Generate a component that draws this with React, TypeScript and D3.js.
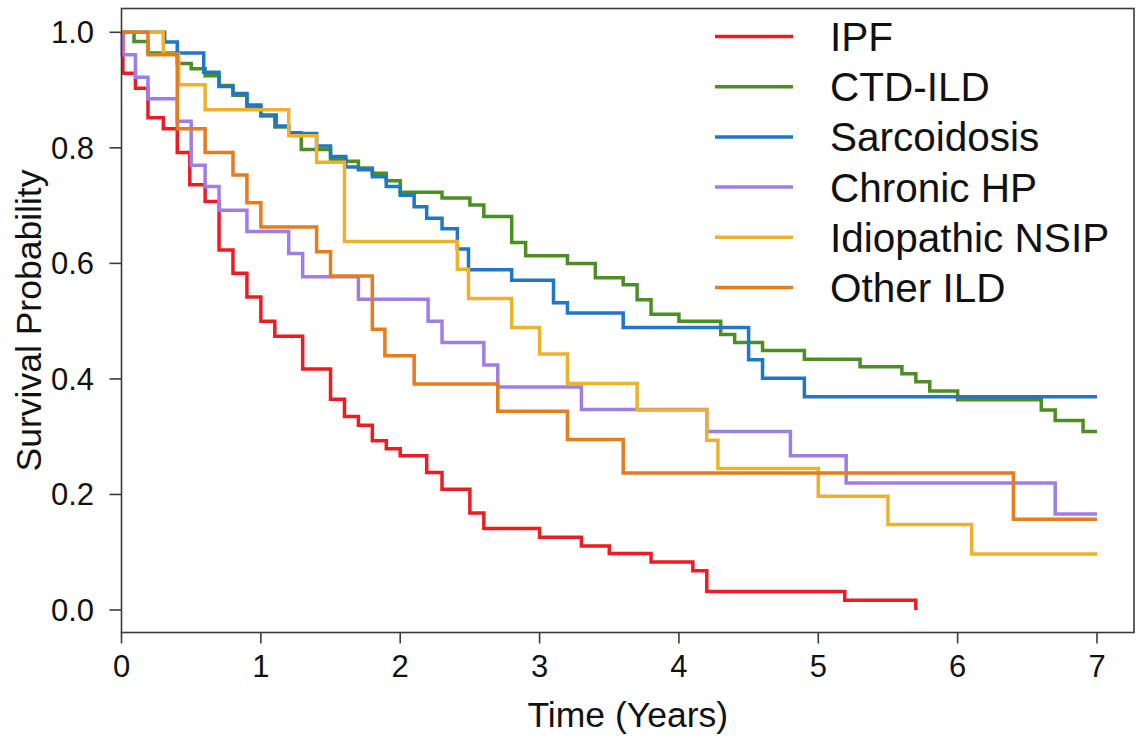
import React from "react";
import * as d3 from "d3";

// ---------- data ----------
const seriesNames = ["IPF", "CTD-ILD", "Sarcoidosis", "Chronic HP", "Idiopathic NSIP", "Other ILD"];
const seriesColors = ["#ec1c24", "#4b8f22", "#1f77c9", "#a07de6", "#edb22c", "#e57c1d"];

const ipfTime = [0, 0.01, 0.1, 0.19, 0.3, 0.4, 0.49, 0.6, 0.7, 0.8, 0.9, 1.0, 1.1, 1.3, 1.5, 1.6, 1.7, 1.8, 1.9, 2.0, 2.19, 2.3, 2.5, 2.6, 3.0, 3.3, 3.5, 3.8, 4.1, 4.2, 5.19, 5.7];
const ipfSurv = [1, 0.929, 0.903, 0.852, 0.833, 0.792, 0.736, 0.707, 0.623, 0.583, 0.542, 0.5, 0.474, 0.417, 0.365, 0.335, 0.32, 0.293, 0.279, 0.267, 0.238, 0.209, 0.168, 0.141, 0.126, 0.111, 0.098, 0.083, 0.068, 0.032, 0.017, 0.0];

const ctdTime = [0, 0.09, 0.19, 0.4, 0.5, 0.6, 0.7, 0.8, 0.9, 1.0, 1.1, 1.2, 1.29, 1.5, 1.61, 1.7, 1.8, 1.9, 2.0, 2.3, 2.5, 2.6, 2.8, 2.9, 3.2, 3.4, 3.6, 3.7, 3.8, 4.0, 4.3, 4.4, 4.6, 4.9, 5.3, 5.6, 5.7, 5.8, 6.0, 6.6, 6.7, 6.9, 7.0];
const ctdSurv = [1, 0.984, 0.964, 0.946, 0.937, 0.925, 0.908, 0.891, 0.871, 0.855, 0.836, 0.826, 0.797, 0.78, 0.777, 0.765, 0.756, 0.743, 0.723, 0.713, 0.701, 0.681, 0.636, 0.613, 0.6, 0.575, 0.563, 0.537, 0.512, 0.5, 0.477, 0.463, 0.449, 0.434, 0.421, 0.409, 0.395, 0.379, 0.364, 0.346, 0.328, 0.309, 0.309];

const sarcTime = [0, 0.31, 0.4, 0.59, 0.7, 0.8, 0.9, 1.0, 1.11, 1.2, 1.4, 1.5, 1.61, 1.7, 1.8, 1.9, 2.0, 2.1, 2.19, 2.3, 2.41, 2.49, 2.8, 3.1, 3.2, 3.6, 4.5, 4.6, 4.9, 7.0];
const sarcSurv = [1, 0.983, 0.964, 0.931, 0.906, 0.894, 0.874, 0.857, 0.838, 0.825, 0.803, 0.785, 0.767, 0.762, 0.75, 0.733, 0.718, 0.698, 0.678, 0.66, 0.625, 0.589, 0.571, 0.532, 0.514, 0.489, 0.433, 0.401, 0.369, 0.369];

const hpTime = [0, 0.005, 0.1, 0.19, 0.4, 0.5, 0.6, 0.7, 0.9, 1.2, 1.3, 1.7, 2.2, 2.3, 2.6, 2.7, 3.3, 4.2, 4.8, 5.2, 6.7, 7.0];
const hpSurv = [1, 0.961, 0.922, 0.885, 0.846, 0.77, 0.733, 0.692, 0.655, 0.617, 0.577, 0.538, 0.5, 0.463, 0.424, 0.386, 0.347, 0.309, 0.267, 0.22, 0.166, 0.166];

const nsipTime = [0, 0.3, 0.41, 0.6, 1.2, 1.4, 1.6, 2.41, 2.49, 2.8, 3.0, 3.2, 3.7, 4.2, 4.28, 5.0, 5.5, 6.1, 7.0];
const nsipSurv = [1, 0.962, 0.909, 0.866, 0.821, 0.775, 0.638, 0.59, 0.539, 0.489, 0.443, 0.392, 0.346, 0.294, 0.245, 0.197, 0.148, 0.097, 0.097];

const otherTime = [0, 0.19, 0.4, 0.6, 0.8, 0.9, 1.0, 1.4, 1.5, 1.8, 1.89, 2.1, 2.7, 3.2, 3.6, 6.4, 7.0];
const otherSurv = [1, 0.961, 0.833, 0.792, 0.753, 0.705, 0.663, 0.62, 0.578, 0.486, 0.44, 0.391, 0.344, 0.295, 0.237, 0.157, 0.157];

const xTicks = [0, 1, 2, 3, 4, 5, 6, 7];
const yTicks = [0, 0.2, 0.4, 0.6, 0.8, 1.0];
const xTitle = "Time (Years)";
const yTitle = "Survival Probability";

const seriesTimes = [ipfTime, ctdTime, sarcTime, hpTime, nsipTime, otherTime];
const seriesSurvs = [ipfSurv, ctdSurv, sarcSurv, hpSurv, nsipSurv, otherSurv];

// ---------- layout ----------
const W = 1136;
const H = 738;
const box = { left: 121.5, right: 1134, top: 8.5, bottom: 632.5 };
const FONT = "'Liberation Sans', Arial, sans-serif";
const AXIS = "#3a3a3a";

export default function App() {
  const x = d3.scaleLinear().domain([0, 7]).range([121.5, 1097]);
  const y = d3.scaleLinear().domain([0, 1]).range([610, 32.3]);

  const line = d3
    .line<[number, number]>()
    .x((d) => x(d[0]))
    .y((d) => y(d[1]))
    .curve(d3.curveStepAfter);

  const series = seriesNames.map((name, i) => ({
    name,
    color: seriesColors[i],
    pts: seriesTimes[i].map((t, j) => [t, seriesSurvs[i][j]] as [number, number]),
  }));

  const legendX1 = 715;
  const legendX2 = 793;
  const legendTextX = 830;
  const legendY0 = 36.5;
  const legendStep = 50.2;

  return (
    <svg
      width={W}
      height={H}
      style={{ position: "absolute", left: 0, top: 0, background: "#fff" }}
      fontFamily={FONT}
    >
      <rect x={0} y={0} width={W} height={H} fill="#fff" />
      {/* curves */}
      {series.map((s) => (
        <path
          key={s.name}
          d={line(s.pts) || ""}
          fill="none"
          stroke={s.color}
          strokeWidth={3.5}
          strokeLinejoin="miter"
          strokeLinecap="butt"
        />
      ))}
      {/* box */}
      <rect
        x={box.left}
        y={box.top}
        width={box.right - box.left}
        height={box.bottom - box.top}
        fill="none"
        stroke={AXIS}
        strokeWidth={1.6}
      />
      {/* x axis ticks */}
      {xTicks.map((t) => (
        <g key={"x" + t}>
          <line x1={x(t)} x2={x(t)} y1={box.bottom} y2={box.bottom + 11} stroke={AXIS} strokeWidth={1.6} />
          <text x={x(t)} y={677} fontSize={31} textAnchor="middle" fill="#111">
            {String(t)}
          </text>
        </g>
      ))}
      {/* y axis ticks */}
      {yTicks.map((t) => (
        <g key={"y" + t}>
          <line x1={box.left - 12} x2={box.left} y1={y(t)} y2={y(t)} stroke={AXIS} strokeWidth={1.6} />
          <text x={94} y={y(t) + 11} fontSize={31} textAnchor="end" fill="#111">
            {t.toFixed(1)}
          </text>
        </g>
      ))}
      {/* axis titles */}
      <text x={(box.left + box.right) / 2} y={727} fontSize={35.5} textAnchor="middle" fill="#111">
        {xTitle}
      </text>
      <text
        transform={`translate(41, ${(box.top + box.bottom) / 2}) rotate(-90)`}
        fontSize={35.5}
        textAnchor="middle"
        fill="#111"
      >
        {yTitle}
      </text>
      {/* legend */}
      {series.map((s, i) => {
        const ly = legendY0 + i * legendStep;
        return (
          <g key={"lg" + s.name}>
            <line x1={legendX1} x2={legendX2} y1={ly} y2={ly} stroke={s.color} strokeWidth={3.5} />
            <text x={legendTextX} y={ly + 14.5} fontSize={40.5} fill="#111">
              {s.name}
            </text>
          </g>
        );
      })}
    </svg>
  );
}
